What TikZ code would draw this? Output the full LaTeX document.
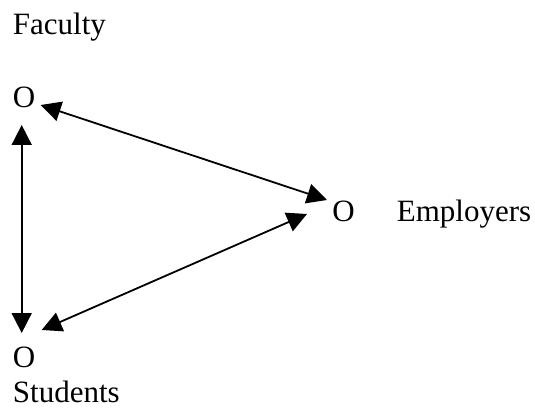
\documentclass[tikz,border=0pt]{standalone}
\usepackage{fontspec}
\setmainfont{Liberation Serif}
\usetikzlibrary{arrows.meta}

\begin{document}
\begin{tikzpicture}[x=1pt,y=1pt,line width=1.8pt,
  txt/.style={inner sep=0pt,anchor=base west,font=\fontsize{31}{37}\selectfont},
  >={Triangle[length=20pt,width=20pt]}]
\useasboundingbox (0,0) rectangle (535,410);
\node[txt] (fac) at (12,375) {Faculty};
\node[txt] (facO) at (12,302) {O};
\node[txt] (empO) at (331.5,189) {O}; \node[txt] (emp) at (396,189) {Employers};
\node[txt] (stuO) at (12,43) {O}; \node[txt] (stu) at (12,8) {Students};
\coordinate (F1) at (21.7,285); \coordinate (S1) at (21.7,77);
\coordinate (F2) at (40.7,305); \coordinate (E1) at (327,210);
\coordinate (E2) at (307,196); \coordinate (S2) at (41.7,80);
\draw[<->] (F1)--(S1);
\draw[<->] (F2)--(E1);
\draw[<->] (E2)--(S2);
\end{tikzpicture}
\end{document}
